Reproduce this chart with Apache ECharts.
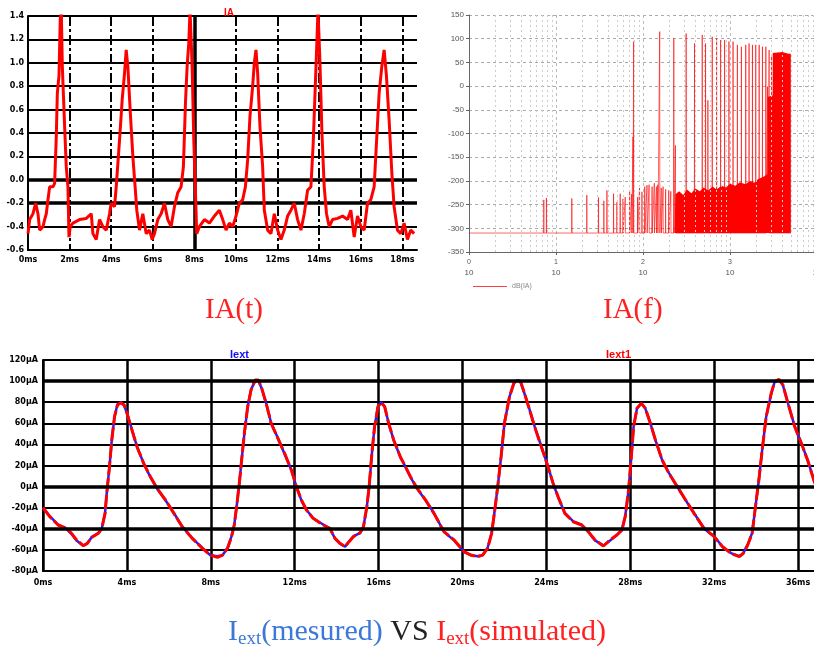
<!DOCTYPE html>
<html><head><meta charset="utf-8">
<script src="https://cdn.jsdelivr.net/npm/echarts@6/dist/echarts.min.js"></script>
<style>html,body{margin:0;padding:0;background:#fff}#c{width:814px;height:651px}</style>
</head><body><div id="c"></div>
<script>
// ---------- IA(t) : [time ms, value] ----------
const iaSamples = [
[0,-0.46],[0.08,-0.34],[0.24,-0.29],[0.37,-0.20],[0.48,-0.29],[0.56,-0.43],[0.72,-0.40],[0.80,-0.34],[0.88,-0.29],[0.96,-0.17],
[1.04,-0.06],[1.20,-0.06],[1.28,-0.03],[1.36,0.37],[1.41,0.74],[1.49,0.89],[1.55,1.37],[1.60,1.45],[1.65,0.97],[1.71,0.69],
[1.76,0.46],[1.84,0.11],[1.92,-0.06],[1.97,-0.49],[2.03,-0.40],[2.16,-0.37],[2.48,-0.34],[2.80,-0.33],[3.04,-0.29],[3.12,-0.46],
[3.28,-0.51],[3.44,-0.34],[3.60,-0.40],[3.76,-0.43],[3.92,-0.29],[4.00,-0.20],[4.16,-0.23],[4.24,-0.06],[4.40,0.34],[4.53,0.69],
[4.64,0.91],[4.72,1.11],[4.80,0.97],[4.91,0.60],[5.04,0.20],[5.15,-0.06],[5.23,-0.26],[5.36,-0.43],[5.52,-0.29],[5.68,-0.46],
[5.84,-0.43],[5.97,-0.51],[6.08,-0.46],[6.24,-0.34],[6.40,-0.29],[6.56,-0.20],[6.72,-0.34],[6.88,-0.40],[7.04,-0.23],[7.20,-0.11],
[7.36,-0.06],[7.47,0.11],[7.57,0.66],[7.65,0.97],[7.73,1.17],[7.79,1.45],[7.89,0.97],[7.97,0.34],[8.05,-0.11],[8.11,-0.46],
[8.24,-0.40],[8.48,-0.34],[8.72,-0.37],[8.96,-0.31],[9.20,-0.26],[9.36,-0.34],[9.52,-0.43],[9.68,-0.37],[9.84,-0.40],[10.00,-0.31],
[10.16,-0.20],[10.32,-0.17],[10.45,-0.06],[10.56,0.17],[10.67,0.54],[10.80,0.80],[10.88,1.00],[10.96,1.11],[11.04,0.91],[11.15,0.46],
[11.28,0.11],[11.36,-0.26],[11.52,-0.43],[11.68,-0.46],[11.84,-0.29],[12.00,-0.43],[12.16,-0.51],[12.32,-0.43],[12.48,-0.31],[12.64,-0.26],
[12.80,-0.20],[12.96,-0.34],[13.12,-0.43],[13.28,-0.29],[13.44,-0.09],[13.60,-0.06],[13.71,0.31],[13.81,0.80],[13.87,1.09],[13.94,1.45],
[14.03,1.03],[14.13,0.40],[14.24,-0.06],[14.35,-0.29],[14.48,-0.40],[14.64,-0.34],[14.88,-0.33],[15.12,-0.31],[15.36,-0.34],[15.52,-0.26],
[15.68,-0.49],[15.84,-0.31],[16.00,-0.40],[16.16,-0.43],[16.32,-0.20],[16.48,-0.17],[16.64,-0.06],[16.75,0.31],[16.88,0.74],[17.01,0.97],
[17.12,1.11],[17.23,0.89],[17.36,0.51],[17.49,0.06],[17.60,-0.23],[17.76,-0.43],[17.92,-0.46],[18.08,-0.37],[18.24,-0.51],[18.40,-0.43],
[18.56,-0.46]
];

// ---------- IA(f) spectrum ----------
const specFloor = -310;
const spikeFreq = [7.24,7.76,15.2,22.6,30.8,35.5,38.5,45.9,50.1,54.7,58.9,62.5,70.2,74.1,76.7,78.0,86.7,91.2,97.3,104.7,
  111.2,117.5,127.1,134.9,142.6,147.9,155.6,162.2,170.2,182,197.7,208.9,225.9,236.0,313.3,390.8,479.7,523.6,557.2,625.2,
  701.5,779.8,867.0,972.7,1084,1216,1352,1517,1656,1811,1977,2163,2360,2582,2698,2818,2999,3221,3451,3673,4018,4385,4797];
const spikeLevel = [-240,-236,-237,-230,-235,-242,-220,-227,-245,-227,-238,-234,-220,-228,-107,94,-234,-215,-223,-212,
  -209,-208,-212,-205,-212,-208,115,-215,-212,-218,-220,-222,101,-125,111,90,108,90,-30,104,
  101,97,97,94,94,87,83,87,90,87,87,87,83,83,-1,76,66,69,-170,66,66,66,63];
const floorFreq  = [230,236,260,290,320,360,400,450,500,560,630,700,800,900,1000,1150,1300,1500,1700,1900,2100,2400,2690,2700,3090,3100,4000,4700,5000,5010];
const floorLevel = [-310,-228,-222,-230,-218,-226,-216,-222,-214,-220,-212,-218,-210,-214,-206,-210,-203,-207,-200,-204,-196,-192,-186,-23,-20,70,72,68,68,-310];

// ---------- Iext(t) ----------
const tB = [0,0.32,0.72,1.12,1.36,1.60,1.92,2.11,2.32,2.64,2.80,2.96,3.04,3.17,3.28,3.41,3.55,3.71,3.87,4.03,
4.24,4.48,4.80,5.12,5.44,5.84,6.24,6.64,7.12,7.60,7.97,8.32,8.56,8.80,8.99,9.12,9.25,9.36,9.47,9.60,
9.76,9.92,10.11,10.27,10.43,10.64,10.88,11.20,11.52,11.84,12.08,12.32,12.56,12.88,13.28,13.68,13.92,14.16,14.40,14.59,
14.80,15.12,15.28,15.44,15.55,15.68,15.81,15.97,16.13,16.29,16.48,16.72,17.04,17.20,17.52,17.84,18.24,18.64,19.12,19.60,
20.08,20.40,20.72,20.96,21.20,21.39,21.52,21.68,21.84,22.00,22.24,22.45,22.61,22.77,22.96,23.20,23.44,23.76,24.08,24.32,
24.56,24.88,25.28,25.68,26.00,26.32,26.72,27.04,27.36,27.60,27.76,27.92,28.05,28.16,28.32,28.53,28.72,28.96,29.20,29.52,
29.84,30.24,30.64,31.04,31.52,32.00,32.40,32.80,33.20,33.39,33.60,33.81,33.97,34.13,34.29,34.48,34.72,34.88,35.09,35.28,
35.52,35.84,36.16,36.48,36.80,36.91];
const vSim = [-20,-28.5,-36.4,-39.6,-44.3,-50.6,-56.0,-53.8,-48.1,-44.3,-39.6,-25.4,-6.4,18.9,44.2,66.3,77.3,79.5,77.3,67.9,
53.6,37.8,22.0,9.4,-1.7,-12.7,-25.4,-38.0,-49.1,-58.5,-64.9,-67.1,-64.9,-58.5,-47.5,-36.4,-15.9,3.1,25.2,50.5,
75.8,91.6,101.0,101.0,93.1,78.9,60.0,45.7,31.5,15.7,0,-12.7,-22.2,-30.1,-35.5,-39.6,-49.1,-53.8,-57.0,-52.2,
-47.5,-43.7,-38.0,-19.0,0,31.5,56.8,75.8,79.5,75.8,60.0,44.2,28,22,9.4,-1.7,-12.7,-25.4,-42.7,-50.6,
-61.7,-64.9,-66.4,-64.9,-58.5,-44.3,-25.4,0,28.4,60.0,85.2,97.9,101.7,99.5,88.4,72.6,56.8,37.8,18.9,3.1,
-9.6,-25.4,-33.3,-36.4,-42.7,-50.6,-56.3,-50.6,-45.9,-41.2,-28.5,-3.2,28.4,56.8,74.2,78.9,74.2,60.0,44.2,25.2,
12.6,0,-12.7,-25.4,-39.6,-47.5,-57.0,-63.3,-66.4,-63.3,-55.4,-44.3,-19.0,6.2,34.7,66.3,88.4,99.5,101.7,96.3,
78.9,56.8,41.0,23.6,3.1,-3.2];
const vMes = [-20,-28,-36,-40,-45,-51,-56,-54,-48,-44,-40,-25,-6,19,44,66,78,80,77,68,
54,38,22,9,-2,-13,-25,-38,-49,-58,-65,-66,-65,-58,-47,-36,-16,3,25,50,
76,92,100,100,93,79,60,46,31,16,0,-13,-22,-30,-35,-40,-49,-54,-57,-52,
-47,-44,-38,-19,0,31,57,76,80,76,60,44,28,22,9,-2,-13,-25,-43,-51,
-62,-65,-66,-65,-58,-44,-25,0,28,60,85,98,101,99,88,73,57,38,19,3,
-10,-25,-33,-36,-43,-51,-56,-51,-46,-41,-28,-3,28,57,74,79,74,60,44,25,
13,0,-13,-25,-40,-47,-57,-63,-66,-63,-55,-44,-19,6,35,66,88,99,101,96,
79,57,41,24,3,-3];

const seriesNames = { ia: 'IA', spec: 'dB(IA)', mes: 'Iext', sim: 'Iext1' };
// heavier reference grid lines (axis values)
const iaHeavyX = [8], iaHeavyY = [0, -0.2];
const extHeavyY = [100, 0, -40];

// ---- build library data from arrays ----
const spikeData = [[1, specFloor]];
spikeFreq.forEach((f, i) => {
  spikeData.push([f * 0.996, specFloor], [f, spikeLevel[i]], [f * 1.004, specFloor]);
});
spikeData.push([5012, specFloor]);
const floorData = floorFreq.map((f, i) => [f, floorLevel[i]]);
const mesData = tB.map((t, i) => [t, vMes[i]]);
const simData = tB.map((t, i) => [t, vSim[i]]);
const minorLines = [];
[1, 10, 100, 1000].forEach(d => { for (let k = 2; k <= 9; k++) minorLines.push({ xAxis: d * k }); });
const heavyMark = (xs, ys) => ({ silent: true, symbol: ['none', 'none'], label: { show: false }, animation: false,
  lineStyle: { color: '#000', type: 'solid', width: 3.5 },
  data: xs.map(v => ({ xAxis: v })).concat(ys.map(v => ({ yAxis: v }))) });

const lblBlack = { fontSize: 8, fontWeight: 'bold', color: '#000', fontFamily: 'DejaVu Sans' };

const chart = echarts.init(document.getElementById('c'));
chart.setOption({
  animation: false,
  backgroundColor: '#fff',
  grid: [
    { left: 28, top: 16, width: 389, height: 234, outerBoundsMode: 'none' },
    { left: 469, top: 15, width: 348, height: 237, outerBoundsMode: 'none' },
    { left: 43, top: 360, width: 771, height: 211, outerBoundsMode: 'none' }
  ],
  xAxis: [
    { gridIndex: 0, type: 'value', min: 0, max: 18.7, interval: 2,
      axisLine: { onZero: false, lineStyle: { color: '#000', width: 2 } }, axisTick: { show: false },
      axisLabel: Object.assign({ margin: 6, showMaxLabel: false, formatter: v => v + 'ms' }, lblBlack),
      splitLine: { show: true, showMaxLine: false, lineStyle: { color: '#000', width: 2, type: [10, 3, 3, 3] } } },
    { gridIndex: 1, type: 'log', logBase: 10, min: 1, max: 10000,
      axisLine: { onZero: false, lineStyle: { color: '#666', width: 1 } }, axisTick: { show: true, length: 3, lineStyle: { color: '#666' } },
      axisLabel: { margin: 5, formatter: v => '{e|' + Math.round(Math.log10(v)) + '}\n{b|10}',
        rich: { e: { fontSize: 7, color: '#555', lineHeight: 10 }, b: { fontSize: 8, color: '#555', lineHeight: 11 } } },
      splitLine: { show: true, lineStyle: { color: '#bbb', type: [3, 3], width: 1 } } },
    { gridIndex: 2, type: 'value', min: 0, max: 36.76, interval: 4,
      axisLine: { onZero: false, lineStyle: { color: '#000', width: 2 } }, axisTick: { show: false },
      axisLabel: Object.assign({ margin: 8, showMaxLabel: false, formatter: v => v + 'ms' }, lblBlack),
      splitLine: { show: true, showMaxLine: false, lineStyle: { color: '#000', width: 2.5 } } }
  ],
  yAxis: [
    { gridIndex: 0, type: 'value', min: -0.6, max: 1.4, interval: 0.2,
      axisLine: { show: true, onZero: false, lineStyle: { color: '#000', width: 2 } }, axisTick: { show: false },
      axisLabel: Object.assign({ margin: 4, formatter: v => v.toFixed(1) }, lblBlack),
      splitLine: { show: true, lineStyle: { color: '#000', width: 2 } } },
    { gridIndex: 1, type: 'value', min: -350, max: 150, interval: 50,
      axisLine: { show: true, onZero: false, lineStyle: { color: '#666', width: 1 } }, axisTick: { show: true, length: 3 },
      axisLabel: { fontSize: 8, color: '#555', margin: 5 },
      splitLine: { show: true, lineStyle: { color: '#aaa', type: [3, 3], width: 1 } } },
    { gridIndex: 2, type: 'value', min: -80, max: 120, interval: 20,
      axisLine: { show: true, onZero: false, lineStyle: { color: '#000', width: 2 } }, axisTick: { show: false },
      axisLabel: Object.assign({ margin: 5, formatter: v => v + 'µA' }, lblBlack),
      splitLine: { show: true, lineStyle: { color: '#000', width: 2 } } }
  ],
  legend: [
    { left: 214, top: 1, icon: 'none', itemWidth: 0, selectedMode: false,
      data: [{ name: seriesNames.ia, textStyle: { color: '#ff0000' } }],
      textStyle: { fontSize: 10, fontWeight: 'bold' } },
    { left: 468, top: 278, icon: 'rect', itemWidth: 34, itemHeight: 1, selectedMode: false,
      data: [{ name: seriesNames.spec, itemStyle: { color: '#ff4040' } }],
      textStyle: { fontSize: 7, color: '#888' } },
    { left: 220, top: 343, icon: 'none', itemWidth: 0, itemGap: 352, selectedMode: false,
      data: [{ name: seriesNames.mes, textStyle: { color: '#1010ff' } }, { name: seriesNames.sim, textStyle: { color: '#ff0000' } }],
      textStyle: { fontSize: 11, fontWeight: 'bold' } }
  ],
  series: [
    { name: seriesNames.ia, type: 'line', xAxisIndex: 0, yAxisIndex: 0, data: iaSamples, symbol: 'none', z: 3,
      clip: true, lineStyle: { color: '#ff0000', width: 3 }, itemStyle: { color: '#ff0000' },
      markLine: Object.assign(heavyMark(iaHeavyX, iaHeavyY), { z: 1 }) },
    { name: 'floor', type: 'line', xAxisIndex: 1, yAxisIndex: 1, data: floorData, symbol: 'none',
      lineStyle: { width: 0 }, areaStyle: { color: '#ff0000', opacity: 1, origin: specFloor } },
    { name: seriesNames.spec, type: 'line', xAxisIndex: 1, yAxisIndex: 1, data: spikeData, symbol: 'none',
      lineStyle: { color: 'rgba(255,0,0,0.6)', width: 1 }, itemStyle: { color: '#ff4040' },
      markLine: { silent: true, symbol: ['none', 'none'], label: { show: false }, animation: false,
        lineStyle: { color: '#ccc', type: [2, 3], width: 1 }, data: minorLines } },
    { name: seriesNames.mes, type: 'line', xAxisIndex: 2, yAxisIndex: 2, data: mesData, symbol: 'none',
      clip: true, lineStyle: { color: '#2020ff', width: 2.5 }, itemStyle: { color: '#2020ff' },
      markLine: heavyMark([], extHeavyY) },
    { name: seriesNames.sim, type: 'line', xAxisIndex: 2, yAxisIndex: 2, data: simData, symbol: 'none',
      clip: true, lineStyle: { color: '#ff0000', width: 3, type: [14, 3] }, itemStyle: { color: '#ff0000' } }
  ],
  graphic: [
    { type: 'text', left: 205, top: 296, style: { text: 'IA(t)', fill: '#ff2020', font: '29px "Liberation Serif"' } },
    { type: 'text', left: 603, top: 296, style: { text: 'IA(f)', fill: '#ff2020', font: '29px "Liberation Serif"' } },
    { type: 'text', left: 228, top: 617, style: {
        text: '{b|I}{bs|ext}{b|(mesured) }{k|VS }{r|I}{rs|ext}{r|(simulated)}',
        rich: {
          b: { fill: '#3b78d8', fontFamily: 'Liberation Serif', fontSize: 30, lineHeight: 34 },
          bs: { fill: '#3b78d8', fontFamily: 'Liberation Serif', fontSize: 19, lineHeight: 19, verticalAlign: 'bottom' },
          k: { fill: '#222', fontFamily: 'Liberation Serif', fontSize: 30, lineHeight: 34 },
          r: { fill: '#ff2020', fontFamily: 'Liberation Serif', fontSize: 30, lineHeight: 34 },
          rs: { fill: '#ff2020', fontFamily: 'Liberation Serif', fontSize: 19, lineHeight: 19, verticalAlign: 'bottom' }
        } } }
  ]
});
</script></body></html>
